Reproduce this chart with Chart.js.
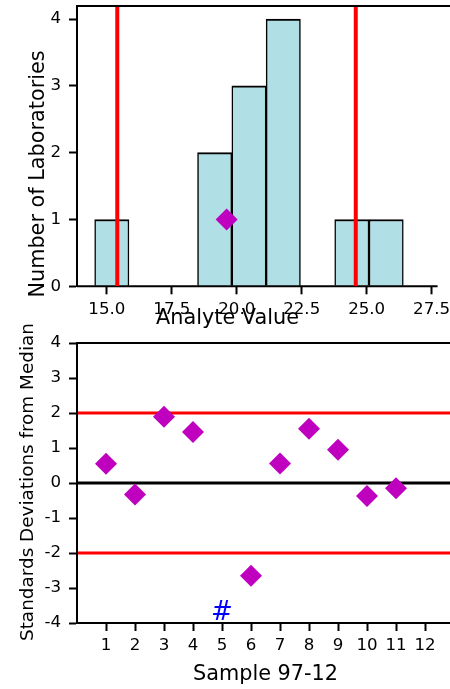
<!DOCTYPE html>
<html><head><meta charset="utf-8">
<script src="https://cdn.jsdelivr.net/npm/chart.js@4/dist/chart.umd.min.js"></script>
<style>
html,body{margin:0;padding:0;background:#fff;overflow:hidden;width:450px;height:689px;}
#wrap{position:relative;width:450px;height:689px;overflow:hidden;background:#fff;}
.box{position:absolute;left:0;width:470px;}
#c1box{top:0;height:340px;}
#c2box{top:300px;height:389px;}
canvas{display:block;}
</style></head><body>
<div id="wrap">
<div class="box" id="c1box"><canvas id="c1" width="470" height="340" style="width:470px;height:340px"></canvas></div>
<div class="box" id="c2box"><canvas id="c2" width="470" height="389" style="width:470px;height:389px"></canvas></div>
</div>
<script>
// ---------- data: histogram (top) ----------
const BIN_CENTERS = [15.19, 16.51, 17.83, 19.15, 20.47, 21.79, 23.11, 24.43, 25.75, 27.07];
const LAB_COUNTS  = [1, 0, 0, 2, 3, 4, 0, 1, 1, 0];
const BIN_RIGHT_EDGE = 27.73;
const LIMIT_VALUES = [15.40, 24.58];
const HIGHLIGHT_VALUES = [19.61];
const HIGHLIGHT_COUNTS = [1];
const TOP_X_TICKS = [15, 17.5, 20, 22.5, 25, 27.5];
const TOP_Y_TICKS = [0, 1, 2, 3, 4];

// ---------- data: SD chart (bottom) ----------
const SAMPLES   = [1, 2, 3, 4, 6, 7, 8, 9, 10, 11];
const SD_VALUES = [0.55, -0.33, 1.89, 1.46, -2.65, 0.56, 1.55, 0.95, -0.37, -0.15];
const OFFSCALE_SAMPLES = [5];
const OFFSCALE_VALUES  = [-3.72];
const SD_LIMITS = [2, -2];
const SD_CENTER = 0;
const BOTTOM_X_TICKS = [1, 2, 3, 4, 5, 6, 7, 8, 9, 10, 11, 12];
const BOTTOM_Y_TICKS = [-4, -3, -2, -1, 0, 1, 2, 3, 4];

// ---------- axis ranges ----------
const TOP_X_MIN = 13.85, TOP_X_MAX = 28.4, TOP_Y_MIN = 0, TOP_Y_MAX = 4.2;
const BOT_X_MIN = 0, BOT_X_MAX = 13, BOT_Y_MIN = -4, BOT_Y_MAX = 4;

Chart.defaults.color = '#000';
Chart.defaults.font.family = 'DejaVu Sans';

const FAM = 'DejaVu Sans';
const tickFont = {family: FAM, size: 16.67};
const MAGENTA = '#BF00BF';

const axisTitlesPlugin = {
  id: 'axisTitles',
  afterDraw(chart, args, opts) {
    const ctx = chart.ctx;
    (opts.items || []).forEach(it => {
      ctx.save();
      ctx.font = it.font;
      ctx.fillStyle = '#000';
      ctx.textAlign = 'center';
      ctx.textBaseline = 'alphabetic';
      ctx.translate(it.x, it.y);
      if (it.rotate) ctx.rotate(it.rotate);
      ctx.fillText(it.text, 0, 0);
      ctx.restore();
    });
  }
};

const markerTextPlugin = {
  id: 'markerText',
  afterDatasetsDraw(chart, args, opts) {
    if (!opts.xs) return;
    const ctx = chart.ctx, xs = chart.scales.x, ys = chart.scales.y;
    ctx.save();
    ctx.font = opts.font;
    ctx.fillStyle = opts.color;
    ctx.textAlign = 'center';
    ctx.textBaseline = 'middle';
    opts.xs.forEach((xv, i) => {
      ctx.fillText(opts.text, xs.getPixelForValue(xv), ys.getPixelForValue(opts.ys[i]));
    });
    ctx.restore();
  }
};

function sizeFit(prop, v) {
  return s => { s[prop] = v; s.paddingTop = 0; s.paddingBottom = 0; s.paddingLeft = 0; s.paddingRight = 0; };
}
function tickGrid() {
  return {display: true, offset: false, drawOnChartArea: false, drawTicks: true, tickLength: 8, tickWidth: 2, tickColor: '#000'};
}
function spine() { return {display: true, width: 2, color: '#000', z: 1}; }
function vline(xv, ymin, ymax, color, w) {
  return {type: 'line', data: [{x: xv, y: ymin}, {x: xv, y: ymax}], borderColor: color, borderWidth: w,
          pointRadius: 0, showLine: true, fill: false, clip: 0, order: 1};
}
function hline(yv, xmin, xmax, color, w) {
  return {type: 'line', data: [{x: xmin, y: yv}, {x: xmax, y: yv}], borderColor: color, borderWidth: w,
          pointRadius: 0, showLine: true, fill: false, clip: 0, order: 1};
}

// ---------- top chart ----------
new Chart(document.getElementById('c1'), {
  type: 'scatter',
  data: {
    datasets: [
      {
        type: 'bar',
        data: BIN_CENTERS.map((c, i) => ({x: c, y: LAB_COUNTS[i]})),
        backgroundColor: '#B0E0E6',
        borderColor: '#000',
        borderWidth: {top: 2, left: 1.5, right: 1.5, bottom: 0},
        borderSkipped: false,
        categoryPercentage: 1,
        barPercentage: 1,
        order: 3
      },
      Object.assign(hline(0, TOP_X_MIN, BIN_RIGHT_EDGE, '#000', 2), {clip: false, order: 2}),
      ...LIMIT_VALUES.map(v => vline(v, TOP_Y_MIN, TOP_Y_MAX, '#FF0000', 4)),
      {
        type: 'scatter',
        data: HIGHLIGHT_VALUES.map((v, i) => ({x: v, y: HIGHLIGHT_COUNTS[i]})),
        pointStyle: 'rectRot', pointRadius: 11, pointBorderWidth: 0,
        backgroundColor: MAGENTA, borderColor: MAGENTA, order: 0
      }
    ]
  },
  options: {
    responsive: false, animation: false,
    layout: {autoPadding: false, padding: {top: 5.7, left: 0, right: 15, bottom: 0}},
    plugins: {
      legend: {display: false}, tooltip: {enabled: false},
      axisTitles: {items: [
        {text: 'Number of Laboratories', x: 43.5, y: 174, rotate: -Math.PI / 2, font: '20.8px "DejaVu Sans"'},
        {text: 'Analyte Value', x: 227.5, y: 323.5, font: '20.8px "DejaVu Sans"'}
      ]}
    },
    scales: {
      x: {
        type: 'linear', position: 'bottom', min: TOP_X_MIN, max: TOP_X_MAX, offset: false,
        afterBuildTicks: s => { s.ticks = TOP_X_TICKS.map(v => ({value: v})); },
        afterFit: sizeFit('height', 53.7),
        ticks: {callback: v => Number(v).toFixed(1), padding: 5.5, font: tickFont, color: '#000', maxRotation: 0, autoSkip: false},
        grid: tickGrid(),
        border: {display: false}
      },
      x2: {
        type: 'linear', position: 'top', min: TOP_X_MIN, max: TOP_X_MAX, offset: false,
        afterFit: sizeFit('height', 0),
        ticks: {display: false},
        grid: {display: true, offset: false, drawOnChartArea: false, drawTicks: false},
        border: spine()
      },
      y: {
        type: 'linear', position: 'left', min: TOP_Y_MIN, max: TOP_Y_MAX, offset: false,
        afterBuildTicks: s => { s.ticks = TOP_Y_TICKS.map(v => ({value: v})); },
        afterFit: sizeFit('width', 77),
        ticks: {padding: 8, font: tickFont, color: '#000', autoSkip: false},
        grid: tickGrid(),
        border: spine()
      }
    }
  },
  plugins: [axisTitlesPlugin]
});

// ---------- bottom chart ----------
new Chart(document.getElementById('c2'), {
  type: 'scatter',
  data: {
    datasets: [
      ...SD_LIMITS.map(v => hline(v, BOT_X_MIN, BOT_X_MAX, '#FF0000', 3)),
      hline(SD_CENTER, BOT_X_MIN, BOT_X_MAX, '#000', 3),
      {
        type: 'scatter',
        data: SAMPLES.map((s, i) => ({x: s, y: SD_VALUES[i]})),
        pointStyle: 'rectRot', pointRadius: 11, pointBorderWidth: 0,
        backgroundColor: MAGENTA, borderColor: MAGENTA, order: 0
      }
    ]
  },
  options: {
    responsive: false, animation: false,
    layout: {autoPadding: false, padding: {top: 43, left: 0, right: 16, bottom: 0}},
    plugins: {
      legend: {display: false}, tooltip: {enabled: false},
      axisTitles: {items: [
        {text: 'Standards Deviations from Median', x: 33, y: 182, rotate: -Math.PI / 2, font: '18.4px "DejaVu Sans"'},
        {text: 'Sample 97-12', x: 265.5, y: 380, font: '20.8px "DejaVu Sans"'}
      ]},
      markerText: {xs: OFFSCALE_SAMPLES, ys: OFFSCALE_VALUES, text: '#', color: '#0000FF', font: 'italic 26px "DejaVu Sans"'}
    },
    scales: {
      x: {
        type: 'linear', position: 'bottom', min: BOT_X_MIN, max: BOT_X_MAX,
        afterBuildTicks: s => { s.ticks = BOTTOM_X_TICKS.map(v => ({value: v})); },
        afterFit: sizeFit('height', 66),
        ticks: {padding: 4.5, font: tickFont, color: '#000', maxRotation: 0, autoSkip: false},
        grid: tickGrid(),
        border: spine()
      },
      x2: {
        type: 'linear', position: 'top', min: BOT_X_MIN, max: BOT_X_MAX,
        afterFit: sizeFit('height', 0),
        ticks: {display: false},
        grid: {display: true, drawOnChartArea: false, drawTicks: false},
        border: spine()
      },
      y: {
        type: 'linear', position: 'left', min: BOT_Y_MIN, max: BOT_Y_MAX,
        afterBuildTicks: s => { s.ticks = BOTTOM_Y_TICKS.map(v => ({value: v})); },
        afterFit: sizeFit('width', 77),
        ticks: {padding: 8, font: tickFont, color: '#000', autoSkip: false},
        grid: tickGrid(),
        border: spine()
      }
    }
  },
  plugins: [axisTitlesPlugin, markerTextPlugin]
});
</script>
</body></html>
